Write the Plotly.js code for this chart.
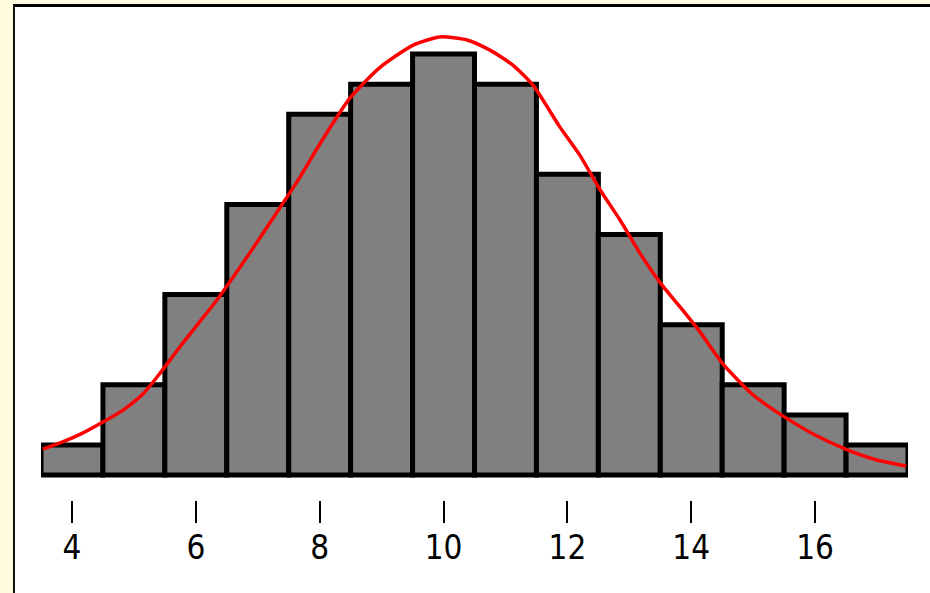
<!DOCTYPE html>
<html>
<head>
<meta charset="utf-8">
<script src="https://cdn.plot.ly/plotly-3.0.1.min.js"></script>
<style>
  html, body { margin: 0; padding: 0; background: #fffce0; width: 930px; height: 593px; overflow: hidden; }
  #frame { position: absolute; left: 13px; top: 4px; width: 917px; height: 589px;
           border-left: 2px solid #111; border-top: 3px solid #000; background: #ffffff; }
  #chart { width: 917px; height: 589px; }
</style>
</head>
<body>
<div id="frame"><div id="chart"></div></div>
<script>
// Histogram bins (centers) and counts
const binCenters = [4, 5, 6, 7, 8, 9, 10, 11, 12, 13, 14, 15, 16, 17];
const counts     = [1, 3, 6, 9, 12, 13, 14, 13, 10, 8, 5, 3, 2, 1];

// Red fitted curve
const curveX = [3.53, 3.85, 4.18, 4.5, 4.82, 5.15, 5.39, 5.79, 6.34, 6.87, 7.41, 7.68, 8.0, 8.49, 8.97, 9.51, 9.94, 10.38, 10.75, 11.12, 11.45, 11.88, 12.2, 12.53, 12.85, 13.17, 13.5, 13.82, 14.14, 14.5, 15.0, 15.53, 16.0, 16.53, 17.0, 17.47];
const curveY = [0.86, 1.1, 1.4, 1.76, 2.15, 2.7, 3.3, 4.39, 5.82, 7.38, 9.05, 9.9, 11.0, 12.54, 13.55, 14.3, 14.57, 14.47, 14.13, 13.63, 12.95, 11.57, 10.64, 9.48, 8.48, 7.38, 6.39, 5.59, 4.76, 3.72, 2.66, 1.9, 1.33, 0.83, 0.5, 0.3];

// Axis ticks
const tickVals = [4, 6, 8, 10, 12, 14, 16];
const tickText = ['4', '6', '8', '10', '12', '14', '16'];

const bars = {
  type: 'bar',
  x: binCenters,
  y: counts,
  width: 1,
  marker: { color: '#808080', line: { color: '#000000', width: 5 } },
  hoverinfo: 'skip'
};

const curve = {
  type: 'scatter',
  mode: 'lines',
  x: curveX,
  y: curveY,
  line: { color: '#ff0000', width: 3.5, shape: 'spline', smoothing: 0.6 },
  hoverinfo: 'skip'
};

const layout = {
  width: 917,
  height: 589,
  margin: { l: 26, r: 24, t: 17, b: 96 },
  paper_bgcolor: '#ffffff',
  plot_bgcolor: '#ffffff',
  showlegend: false,
  bargap: 0,
  xaxis: {
    range: [3.5, 17.5],
    tickmode: 'array',
    tickvals: tickVals,
    ticktext: tickText,
    ticks: 'outside',
    ticklen: 22,
    tickwidth: 2,
    tickcolor: '#000000',
    showline: false,
    showgrid: false,
    zeroline: false,
    ticklabelstandoff: -4,
    tickfont: { family: 'DejaVu Sans Condensed, Liberation Sans Narrow, Liberation Sans, Arial, sans-serif', size: 33, color: '#000000' }
  },
  yaxis: {
    range: [-0.831, 15],
    visible: false,
    showgrid: false,
    zeroline: false
  }
};

Plotly.newPlot('chart', [bars, curve], layout, { displayModeBar: false, staticPlot: true });
</script>
</body>
</html>
